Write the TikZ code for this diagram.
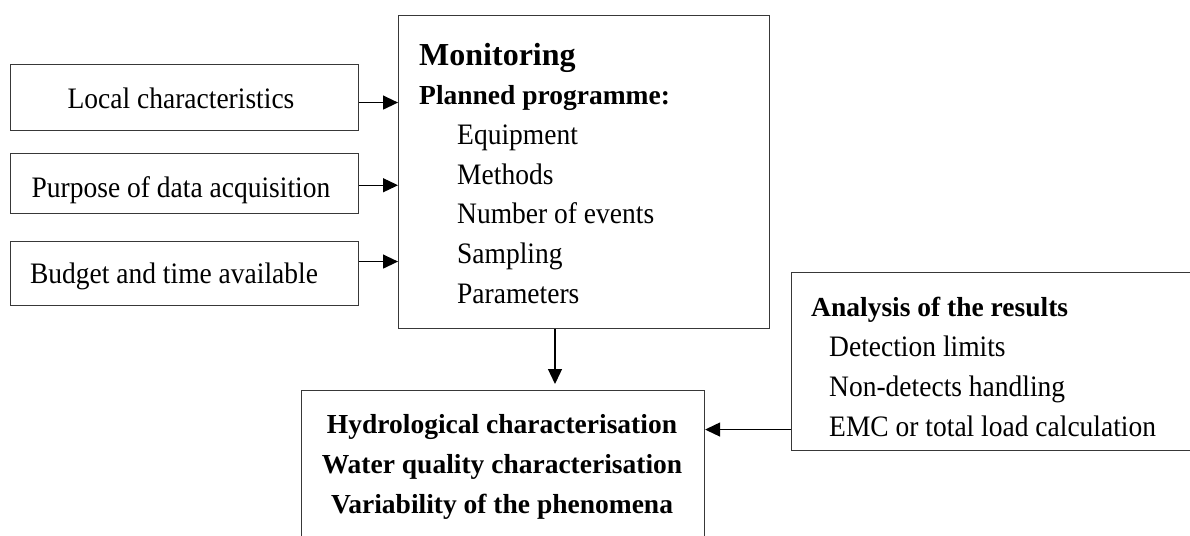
\documentclass[tikz,border=0pt]{standalone}
\usepackage{fontspec}
\setmainfont{Liberation Serif}
\usetikzlibrary{arrows.meta}
\newcommand\vstretch[1]{\scalebox{1}[1.08]{#1}}
\begin{document}
\begin{tikzpicture}[x=1pt,y=-1pt,
  box/.style={draw=black!78, line width=1.1pt, inner sep=0pt, anchor=north west},
  txt/.style={inner sep=0pt, font=\fontsize{27.5}{33}\selectfont},
  btxt/.style={inner sep=0pt, font=\fontsize{27.5}{33}\selectfont\bfseries},
  ttl/.style={inner sep=0pt, font=\fontsize{32}{38}\selectfont\bfseries},
  arr/.style={line width=1.3pt, -{Triangle[length=15pt,width=14pt]}}
]
\useasboundingbox (0,0) rectangle (1190,535);
\clip (0,0) rectangle (1190,535);
\fill[white] (0,0) rectangle (1190,535);

% left input boxes
\node[box, minimum width=348pt, minimum height=66pt] (lc) at (10,64) {};
\node[box, minimum width=348pt, minimum height=60pt] (pd) at (10,153) {};
\node[box, minimum width=348pt, minimum height=64pt] (bt) at (10,241) {};
\node[txt, anchor=base] (lct) at (181,108) {\vstretch{Local characteristics}};
\node[txt, anchor=base] (pdt) at (181,197) {\vstretch{Purpose of data acquisition}};
\node[txt, anchor=base] (btt) at (174,283) {\vstretch{Budget and time available}};

% monitoring box
\node[box, minimum width=371pt, minimum height=313pt] (mon) at (398,15) {};
\node[ttl, anchor=base west] (mont) at (419,65) {Monitoring};
\node[btxt, anchor=base west] (plan) at (419,104) {Planned programme:};
\node[txt, anchor=base west] (i1) at (457,144) {\vstretch{Equipment}};
\node[txt, anchor=base west] (i2) at (457,184) {\vstretch{Methods}};
\node[txt, anchor=base west] (i3) at (457,223) {\vstretch{Number of events}};
\node[txt, anchor=base west] (i4) at (457,263) {\vstretch{Sampling}};
\node[txt, anchor=base west] (i5) at (457,303) {\vstretch{Parameters}};

% bottom box
\node[box, minimum width=403pt, minimum height=250pt] (bot) at (301,390) {};
\node[btxt, anchor=base] (b1) at (502,433) {Hydrological characterisation};
\node[btxt, anchor=base] (b2) at (502,473) {Water quality characterisation};
\node[btxt, anchor=base] (b3) at (502,513) {Variability of the phenomena};

% results box
\node[box, minimum width=460pt, minimum height=178pt] (res) at (791,272) {};
\node[btxt, anchor=base west] (r0) at (811,316) {Analysis of the results};
\node[txt, anchor=base west] (r1) at (829,356) {\vstretch{Detection limits}};
\node[txt, anchor=base west] (r2) at (829,396) {\vstretch{Non-detects handling}};
\node[txt, anchor=base west] (r3) at (829,436) {\vstretch{EMC or total load calculation}};

% connectors
\draw[arr] ([yshift=-5pt]lc.east) coordinate (a1) -- (a1 -| mon.west);
\draw[arr] ([yshift=-1.7pt]pd.east) coordinate (a2) -- (a2 -| mon.west);
\draw[arr] ([yshift=12pt]bt.east) coordinate (a3) -- (a3 -| mon.west);
\coordinate (dx) at (555,0);
\draw[arr, shorten >=6pt] (mon.south -| dx) -- (bot.north -| dx);
\draw[arr] ([yshift=-68pt]res.west) coordinate (a4) -- (a4 -| bot.east);
\end{tikzpicture}
\end{document}
